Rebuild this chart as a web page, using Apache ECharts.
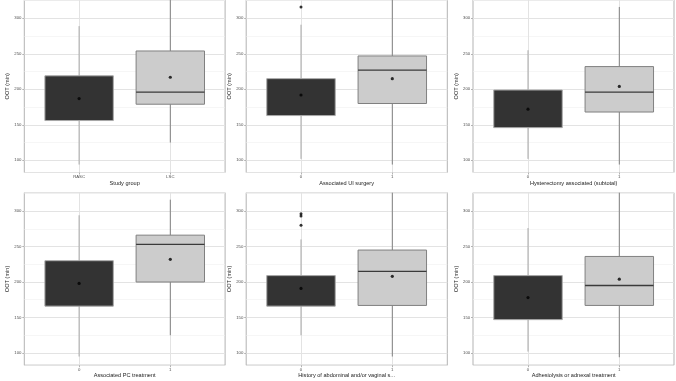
<!DOCTYPE html>
<html>
<head>
<meta charset="utf-8">
<script src="https://cdn.jsdelivr.net/npm/echarts@6/dist/echarts.min.js"></script>
<style>
html, body { margin: 0; padding: 0; background: #fff; }
#chart { width: 676px; height: 381px; }
</style>
</head>
<body>
<div id="chart"></div>
<script>
// shared y scale (OOT, minutes)
const yMin = 82.8;
const yMax = 325.8;
const yTicks = [100, 150, 200, 250, 300];

const panelTitles = [
	'Study group',
	'Associated UI surgery',
	'Hysterectomy associated (subtotal)',
	'Associated PC treatment',
	'History of abdominal and/or vaginal s...',
	'Adhesiolysis or adnexal treatment'
];
const studyGroups = ['RASC', 'LSC'];
const binaryGroups = ['0', '1'];

// [lower whisker, Q1, median, Q3, upper whisker] for each group
const boxStudyGroup = [[94, 156, 185, 219, 289], [125, 179, 196, 254, 340]];
const boxUiSurgery = [[102, 163, 190, 215, 291], [94, 180, 227, 247, 340]];
const boxHysterectomy = [[102, 146, 170, 199, 255], [94, 168, 196, 232, 316]];
const boxPcTreatment = [[95, 166, 195, 230, 294], [125, 200, 253, 266, 316]];
const boxAbdominal = [[125, 166, 187, 209, 260], [95, 167, 215, 245, 340]];
const boxAdhesiolysis = [[102, 147, 178, 209, 276], [94, 167, 195, 236, 340]];

// group means
const meanStudyGroup = [187, 217];
const meanUiSurgery = [192, 215];
const meanHysterectomy = [172, 204];
const meanPcTreatment = [198, 232];
const meanAbdominal = [191, 208];
const meanAdhesiolysis = [178, 204];

// outliers per group
const outUiSurgery = [[316], []];
const outAbdominal = [[296, 293, 280], []];

const panels = [
	{ cats: studyGroups, box: boxStudyGroup, mean: meanStudyGroup, out: [[], []] },
	{ cats: binaryGroups, box: boxUiSurgery, mean: meanUiSurgery, out: outUiSurgery },
	{ cats: binaryGroups, box: boxHysterectomy, mean: meanHysterectomy, out: [[], []] },
	{ cats: binaryGroups, box: boxPcTreatment, mean: meanPcTreatment, out: [[], []] },
	{ cats: binaryGroups, box: boxAbdominal, mean: meanAbdominal, out: outAbdominal },
	{ cats: binaryGroups, box: boxAdhesiolysis, mean: meanAdhesiolysis, out: [[], []] }
];

// layout (px)
const colFrames = [[24.3, 200.8], [246.2, 201.1], [473, 201]];
const colCenters = [[79.1, 170.3], [301, 392.3], [528, 619.3]];
const rowFrames = [[-0.8, 173.3], [192.7, 172.5]];

const font = 'Liberation Sans';
// the dark box hides its median (same colour as the fill)
const boxColors = [
	{ fill: '#333333', stroke: '#a8a8a8', median: null },
	{ fill: '#cccccc', stroke: '#808080', median: '#3a3a3a' }
];

const renderBox = (params, api) => {
	const g = api.value(0);
	const lo = Math.max(api.value(1), yMin);
	const q1 = api.value(2);
	const med = api.value(3);
	const q3 = api.value(4);
	const hi = Math.min(api.value(5), yMax);
	const band = api.coord([1, med])[0] - api.coord([0, med])[0];
	const cx = api.coord([g, med])[0];
	const half = band * 0.375;
	const yLo = api.coord([g, lo])[1];
	const yQ1 = api.coord([g, q1])[1];
	const yMed = api.coord([g, med])[1];
	const yQ3 = api.coord([g, q3])[1];
	const yHi = api.coord([g, hi])[1];
	const c = boxColors[g];
	const children = [
		{ type: 'line', shape: { x1: cx, y1: yLo, x2: cx, y2: yQ1 }, style: { stroke: c.stroke, lineWidth: 1 } },
		{ type: 'line', shape: { x1: cx, y1: yQ3, x2: cx, y2: yHi }, style: { stroke: c.stroke, lineWidth: 1 } },
		{ type: 'rect', shape: { x: cx - half, y: yQ3, width: half * 2, height: yQ1 - yQ3 }, style: { fill: c.fill, stroke: c.stroke, lineWidth: 1 } }
	];
	if (c.median) {
		children.push({ type: 'line', shape: { x1: cx - half, y1: yMed, x2: cx + half, y2: yMed }, style: { stroke: c.median, lineWidth: 1.4 } });
	}
	return { type: 'group', children };
};

const grid = [];
const xAxis = [];
const yAxis = [];
const series = [];

panels.forEach((p, i) => {
	const row = rowFrames[Math.floor(i / 3)];
	const col = colFrames[i % 3];
	const ctr = colCenters[i % 3];
	const fi = i * 2;
	const di = i * 2 + 1;

	// frame: border, horizontal grid, y axis
	grid.push({
		left: col[0], width: col[1], top: row[0], height: row[1],
		show: true, borderColor: '#b3b3b3', borderWidth: 1, backgroundColor: '#fff'
	});
	// data area: spans group centre to group centre
	grid.push({ left: ctr[0], width: ctr[1] - ctr[0], top: row[0], height: row[1] });

	xAxis.push({ type: 'value', gridIndex: fi, min: 0, max: 1, show: false });
	xAxis.push({
		type: 'category',
		gridIndex: di,
		data: p.cats,
		boundaryGap: false,
		name: panelTitles[i],
		nameLocation: 'middle',
		nameGap: 7,
		nameTextStyle: { fontSize: 5.6, color: '#222', fontFamily: font },
		axisLine: { show: false },
		axisTick: { show: true, length: 2, lineStyle: { color: '#b3b3b3' } },
		axisLabel: { interval: 0, fontSize: 4.3, margin: 2.6, color: '#4d4d4d', fontFamily: font },
		splitLine: { show: true, lineStyle: { color: '#e3e3e3', width: 1 } }
	});

	yAxis.push({
		type: 'value',
		gridIndex: fi,
		min: yMin,
		max: yMax,
		name: 'OOT (min)',
		nameLocation: 'middle',
		nameGap: 11,
		nameTextStyle: { fontSize: 5.6, color: '#222', fontFamily: font },
		axisLine: { show: false },
		axisTick: { show: true, length: 2, lineStyle: { color: '#b3b3b3' } },
		axisLabel: {
			fontSize: 4.3, margin: 2.8, color: '#4d4d4d', fontFamily: font,
			showMinLabel: false, showMaxLabel: false,
			formatter: (v) => (yTicks.includes(v) ? String(v) : '')
		},
		splitLine: { show: true, lineStyle: { color: '#e3e3e3', width: 1 } },
		minorTick: { show: false, splitNumber: 2 },
		minorSplitLine: { show: true, lineStyle: { color: '#f0f0f0', width: 0.6 } }
	});
	yAxis.push({ type: 'value', gridIndex: di, min: yMin, max: yMax, show: false });

	series.push({
		type: 'custom',
		xAxisIndex: di,
		yAxisIndex: di,
		renderItem: renderBox,
		data: p.box.map((b, g) => [g].concat(b)),
		silent: true
	});
	series.push({
		type: 'scatter',
		xAxisIndex: di,
		yAxisIndex: di,
		symbolSize: 3.2,
		itemStyle: { color: '#000' },
		data: p.mean.map((m, g) => [g, m]),
		silent: true,
		z: 5
	});
	const outPts = [];
	p.out.forEach((vals, g) => vals.forEach((v) => outPts.push([g, v])));
	series.push({
		type: 'scatter',
		xAxisIndex: di,
		yAxisIndex: di,
		symbolSize: 3,
		itemStyle: { color: '#000' },
		data: outPts,
		silent: true,
		z: 5
	});
});

const myChart = echarts.init(document.getElementById('chart'), null, { renderer: 'canvas', devicePixelRatio: 1 });
myChart.setOption({
	backgroundColor: '#fff',
	animation: false,
	grid,
	xAxis,
	yAxis,
	series
});
</script>
</body>
</html>
